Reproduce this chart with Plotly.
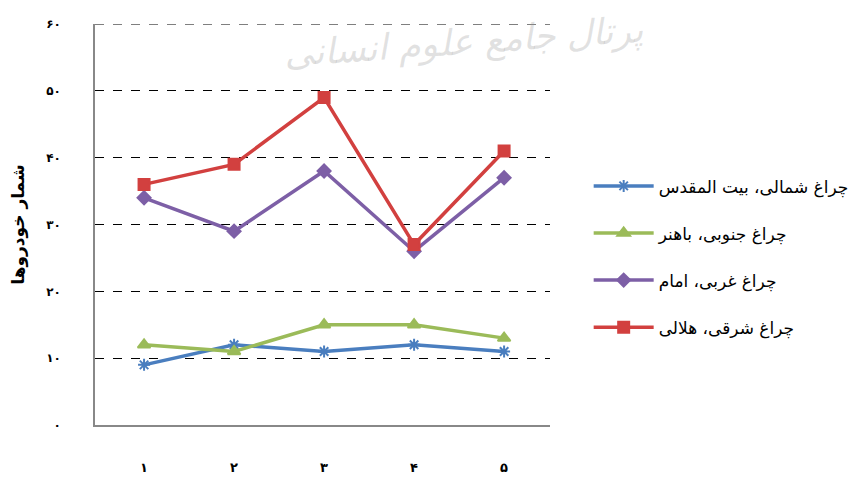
import plotly.graph_objects as go

x_vals = [1, 2, 3, 4, 5]
x_labels = ["۱", "۲", "۳", "۴", "۵"]
y_tickvals = [0, 10, 20, 30, 40, 50, 60]
y_ticklabels = ["۰", "۱۰", "۲۰", "۳۰", "۴۰", "۵۰", "۶۰"]

names = ["چراغ شمالی، بیت المقدس", "چراغ جنوبی، باهنر", "چراغ غربی، امام", "چراغ شرقی، هلالی"]
north = [9, 12, 11, 12, 11]
south = [12, 11, 15, 15, 13]
west = [34, 29, 38, 26, 37]
east = [36, 39, 49, 27, 41]

series = [north, south, west, east]
colors = ["#4A7EBF", "#9BBB59", "#7D5FA6", "#D2403F"]
symbols = ["asterisk-open", "triangle-up", "diamond", "square"]
msizes = [10, 11, 10, 11]

fig = go.Figure()
for i, (nm, ys) in enumerate(zip(names, series)):
    fig.add_trace(go.Scatter(
        x=x_vals, y=ys, name=nm, mode="lines+markers",
        legendgroup=f"g{i}",
        line=dict(color=colors[i], width=3.5),
        marker=dict(symbol=symbols[i], size=msizes[i], color=colors[i],
                    line=dict(color=colors[i], width=2)),
    ))

# top gridline (at the upper edge of the range)
fig.add_shape(type="line", xref="paper", x0=0, x1=1, yref="y",
              y0=y_tickvals[-1], y1=y_tickvals[-1],
              line=dict(color="black", width=1, dash="dash"), layer="below")

fig.add_annotation(
    text="پرتال جامع علوم انسانی", xref="paper", yref="paper",
    x=0.81, y=0.955, xanchor="center", yanchor="middle", showarrow=False,
    textangle=-4,
    font=dict(family="DejaVu Serif", size=36, color="rgba(150,150,150,0.28)",
              style="italic"),
)

fig.update_layout(
    width=863, height=482,
    margin=dict(l=87, r=321, t=16, b=65),
    paper_bgcolor="white", plot_bgcolor="white",
    font=dict(family="DejaVu Sans", color="black"),
    showlegend=True,
    legend=dict(x=1.085, y=0.64, xanchor="left", yanchor="top",
                font=dict(size=17, family="DejaVu Sans"),
                tracegroupgap=22, itemwidth=60,
                bgcolor="rgba(0,0,0,0)"),
)
fig.update_xaxes(
    range=[0.455, 5.51], tickvals=x_vals, ticktext=x_labels,
    showgrid=False, zeroline=False, automargin=False,
    showline=True, linecolor="#888888", linewidth=1.5,
    ticks="", ticklabelstandoff=30,
    tickfont=dict(size=13, family="DejaVu Sans", color="black", weight="bold"),
)
fig.update_yaxes(
    range=[0, 60], tickvals=y_tickvals, ticktext=y_ticklabels,
    showgrid=True, gridcolor="black", griddash="dash", gridwidth=1,
    zeroline=False, showline=True, linecolor="#888888", linewidth=1.5,
    automargin=False,
    ticks="", ticklabelstandoff=30,
    tickfont=dict(size=12, family="DejaVu Sans", color="black", weight="bold"),
    title=dict(text="شمار خودروها", standoff=17,
               font=dict(size=17, family="DejaVu Sans", color="black", weight="bold")),
)

fig.write_html("out.html")
